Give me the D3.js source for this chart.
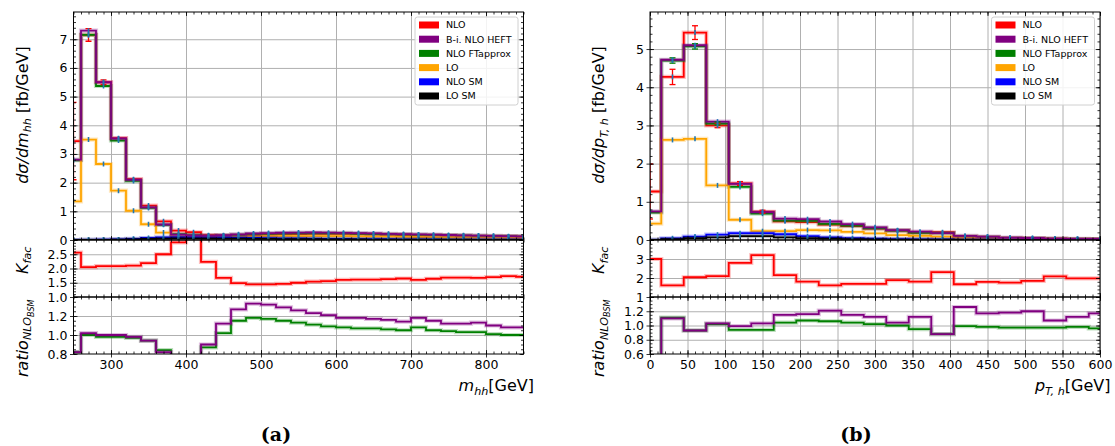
<!DOCTYPE html>
<html><head><meta charset="utf-8">
<script src="https://cdn.jsdelivr.net/npm/d3@7"></script>
<style>body{margin:0;background:#fff} svg{display:block} text{font-family:'DejaVu Sans',sans-serif;fill:#000}</style>
</head><body><script>
// ---------- DATA: left chart (m_hh) ----------
const mhhCenters = [250,270,290,310,330,350,370,390,410,430,450,470,490,510,530,550,570,590,610,630,650,670,690,710,730,750,770,790,810,830,850];
const nloM   = [3.45,7.15,5.50,3.55,2.12,1.20,0.65,0.33,0.27,0.167,0.150,0.156,0.170,0.184,0.196,0.206,0.213,0.212,0.211,0.204,0.195,0.187,0.180,0.166,0.161,0.155,0.146,0.137,0.131,0.125,0.116];
const heftM  = [2.80,7.30,5.50,3.54,2.10,1.14,0.54,0.19,0.16,0.150,0.168,0.198,0.226,0.243,0.253,0.260,0.262,0.257,0.249,0.241,0.228,0.217,0.205,0.196,0.185,0.174,0.164,0.155,0.144,0.135,0.125];
const ftM    = [2.78,7.15,5.37,3.47,2.06,1.12,0.53,0.20,0.17,0.145,0.153,0.179,0.201,0.215,0.225,0.233,0.236,0.231,0.228,0.218,0.209,0.198,0.189,0.179,0.169,0.161,0.150,0.141,0.132,0.125,0.116];
const loM    = [1.35,3.50,2.65,1.72,1.02,0.55,0.26,0.115,0.08,0.075,0.09,0.105,0.118,0.128,0.134,0.137,0.138,0.136,0.132,0.127,0.121,0.115,0.109,0.104,0.098,0.092,0.087,0.082,0.077,0.072,0.068];
const nloSmM = [0.0,0.005,0.01,0.02,0.04,0.07,0.09,0.10,0.10,0.095,0.09,0.083,0.075,0.068,0.06,0.053,0.047,0.042,0.037,0.033,0.029,0.026,0.023,0.02,0.018,0.016,0.014,0.012,0.011,0.01,0.009];
const loSmM  = [0.0,0.003,0.006,0.011,0.022,0.038,0.05,0.055,0.055,0.052,0.049,0.045,0.041,0.037,0.033,0.029,0.026,0.023,0.02,0.018,0.016,0.014,0.013,0.011,0.01,0.009,0.008,0.007,0.006,0.0055,0.005];
const nloErrM = [1.35,0.22,0.08,0.05,0.04,0.05,0.05,0.05,0.04,0.02,0.02,0.02,0.02,0.02,0.02,0.02,0.02,0.02,0.02,0.02,0.02,0.02,0.02,0.02,0.02,0.02,0.02,0.02,0.02,0.02,0.02];
const ftErrM  = [0.03,0.04,0.03,0.02,0.02,0.02,0.01,0.01,0.01,0.01,0.01,0.01,0.01,0.01,0.01,0.01,0.01,0.01,0.01,0.01,0.01,0.01,0.01,0.01,0.01,0.01,0.01,0.01,0.01,0.01,0.01];
const kfacM   = [2.56,2.05,2.08,2.08,2.10,2.19,2.50,2.92,3.30,2.23,1.67,1.49,1.44,1.44,1.46,1.50,1.54,1.56,1.60,1.61,1.61,1.63,1.65,1.60,1.64,1.68,1.68,1.67,1.70,1.73,1.71];
const ratioHeftM = [0.82,1.02,1.00,1.00,0.98,0.94,0.82,0.58,0.60,0.90,1.12,1.27,1.33,1.32,1.29,1.26,1.23,1.21,1.18,1.18,1.17,1.16,1.14,1.18,1.15,1.12,1.12,1.13,1.10,1.08,1.08];
const ratioFtM   = [0.82,1.00,0.98,0.98,0.97,0.94,0.84,0.61,0.63,0.87,1.02,1.15,1.18,1.17,1.15,1.13,1.11,1.09,1.08,1.07,1.07,1.06,1.05,1.08,1.05,1.04,1.03,1.03,1.01,1.00,1.00];
const mhhTicks = [300,400,500,600,700,800];

// ---------- DATA: right chart (pT,h) ----------
const ptCenters = [0,30,60,90,120,150,180,210,240,270,300,330,360,390,420,450,480,510,540,570,600];
const nloP   = [1.27,4.27,5.43,3.00,1.48,0.74,0.49,0.47,0.40,0.363,0.296,0.246,0.195,0.203,0.087,0.077,0.051,0.043,0.033,0.026,0.022];
const heftP  = [0.75,4.72,5.10,3.10,1.47,0.73,0.56,0.545,0.484,0.417,0.332,0.256,0.218,0.179,0.110,0.090,0.060,0.052,0.035,0.029,0.026];
const ftP    = [0.72,4.70,5.07,3.05,1.39,0.69,0.51,0.503,0.424,0.378,0.302,0.246,0.185,0.179,0.086,0.075,0.049,0.042,0.032,0.0255,0.021];
const loP    = [0.43,2.62,2.65,1.43,0.53,0.23,0.23,0.26,0.25,0.215,0.175,0.13,0.108,0.088,0.052,0.043,0.029,0.023,0.016,0.013,0.011];
const nloSmP = [0.005,0.045,0.09,0.14,0.18,0.18,0.15,0.10,0.07,0.05,0.035,0.025,0.018,0.013,0.010,0.008,0.006,0.005,0.004,0.003,0.003];
const loSmP  = [0.002,0.02,0.05,0.07,0.10,0.10,0.07,0.05,0.035,0.025,0.017,0.012,0.009,0.007,0.005,0.004,0.003,0.002,0.002,0.0015,0.001];
const nloErrP = [0.72,0.20,0.18,0.06,0.05,0.04,0.03,0.03,0.02,0.02,0.02,0.01,0.01,0.01,0.01,0.01,0.01,0.01,0.01,0.01,0.01];
const ftErrP  = [0.03,0.07,0.07,0.04,0.03,0.02,0.02,0.02,0.01,0.01,0.01,0.01,0.01,0.01,0.01,0.01,0.01,0.01,0.01,0.01,0.01];
const kfacP   = [3.00,1.61,2.04,2.10,2.80,3.20,2.15,1.81,1.61,1.69,1.69,1.89,1.81,2.31,1.67,1.80,1.76,1.85,2.09,1.98,1.98];
const ratioHeftP = [0.30,1.10,0.93,1.03,0.99,1.03,1.15,1.16,1.21,1.15,1.12,1.04,1.12,0.88,1.26,1.17,1.18,1.20,1.07,1.12,1.17];
const ratioFtP   = [0.30,1.11,0.93,1.02,0.94,0.94,1.04,1.07,1.06,1.04,1.02,1.00,0.95,0.88,0.99,0.98,0.97,0.97,0.97,0.98,0.96];
const ptTicks = [0,50,100,150,200,250,300,350,400,450,500,550,600];

const legendLabels = ['NLO','B-i. NLO HEFT','NLO FTapprox','LO','NLO SM','LO SM'];
const legendColors = ['#ff0000','#800080','#008000','#ffa500','#0000ff','#000000'];

// ---------- LAYOUT ----------
const W=1115,H=446;
const Y0=12, Y1=240, Y2=297, Y3=354;
const TICKFS=12.5, LABFS=16;
const svg=d3.select('body').append('svg').attr('width',W).attr('height',H);
const defs=svg.append('defs');
let clipN=0;
const GRID='#b0b0b0';

function range(a,b,s){const r=[];for(let v=a;v<=b+1e-9;v+=s)r.push(+v.toFixed(4));return r;}

function stepPts(centers, vals, half){
  const p=centers.map((c,i)=>[c-half,vals[i]]);
  p.push([centers[centers.length-1]+half, vals[vals.length-1]]);
  return p;
}

function mathText(sel, parts, fs){
  let cur=0;
  parts.forEach(([t,lvl,it])=>{
    const size = lvl===0?fs:(lvl===1?fs*0.7:fs*0.5);
    const shift = lvl===0?0:(lvl===1?fs*0.22:fs*0.38);
    sel.append('tspan').attr('dy',shift-cur).attr('font-size',size)
      .attr('font-style',it?'italic':'normal').text(t);
    cur=shift;
  });
}

function styleAxis(g){g.select('.domain').remove();g.selectAll('line').attr('stroke','#000').attr('stroke-width',0.8);}

function panel(o){
  const {g,x,y,top,bot,x0,x1,xMajor,xMinor,yMajor,yMinor,yLabels,yFmt,showX,xFmt}=o;
  const h=bot-top;
  g.append('g').attr('transform',`translate(0,${bot})`)
    .call(d3.axisBottom(x).tickValues(xMajor).tickSize(-h).tickFormat(''))
    .call(a=>{a.select('.domain').remove();a.selectAll('line').attr('stroke',GRID).attr('stroke-width',1);});
  g.append('g').attr('transform',`translate(${x0},0)`)
    .call(d3.axisLeft(y).tickValues(yMajor.filter(v=>Math.abs(y(v)-top)>1&&Math.abs(y(v)-bot)>1)).tickSize(-(x1-x0)).tickFormat(''))
    .call(a=>{a.select('.domain').remove();a.selectAll('line').attr('stroke',GRID).attr('stroke-width',1);});
  const id='clip'+(clipN++);
  defs.append('clipPath').attr('id',id).append('rect').attr('x',x0).attr('y',top).attr('width',x1-x0).attr('height',h);
  const plot=g.append('g').attr('clip-path',`url(#${id})`);
  g.append('g').attr('transform',`translate(0,${bot})`).call(d3.axisBottom(x).tickValues(xMinor).tickSize(-2.5).tickFormat('')).call(styleAxis);
  g.append('g').attr('transform',`translate(0,${bot})`).call(d3.axisBottom(x).tickValues(xMajor).tickSize(-4).tickFormat('')).call(styleAxis);
  g.append('g').attr('transform',`translate(0,${top})`).call(d3.axisTop(x).tickValues(xMinor).tickSize(-2.5).tickFormat('')).call(styleAxis);
  g.append('g').attr('transform',`translate(0,${top})`).call(d3.axisTop(x).tickValues(xMajor).tickSize(-4).tickFormat('')).call(styleAxis);
  if(showX){
    g.append('g').attr('transform',`translate(0,${bot})`)
      .call(d3.axisBottom(x).tickValues(xMajor).tickSize(3.5).tickPadding(2.5).tickFormat(xFmt))
      .call(styleAxis).call(a=>a.selectAll('text').attr('font-size',TICKFS).attr('font-family','DejaVu Sans'));
  }
  g.append('g').attr('transform',`translate(${x0},0)`).call(d3.axisLeft(y).tickValues(yMinor).tickSize(-2.5).tickFormat('')).call(styleAxis);
  g.append('g').attr('transform',`translate(${x0},0)`).call(d3.axisLeft(y).tickValues(yMajor).tickSize(-4).tickFormat('')).call(styleAxis);
  g.append('g').attr('transform',`translate(${x0},0)`)
    .call(d3.axisLeft(y).tickValues(yLabels).tickSize(3.5).tickPadding(2.5).tickFormat(yFmt))
    .call(styleAxis).call(a=>a.selectAll('text').attr('font-size',TICKFS).attr('font-family','DejaVu Sans'));
  g.append('g').attr('transform',`translate(${x1},0)`).call(d3.axisRight(y).tickValues(yMinor).tickSize(-2.5).tickFormat('')).call(styleAxis);
  g.append('g').attr('transform',`translate(${x1},0)`).call(d3.axisRight(y).tickValues(yMajor).tickSize(-4).tickFormat('')).call(styleAxis);
  return plot;
}

function stepLine(plot,x,y,centers,vals,half,color){
  const line=d3.line().x(d=>x(d[0])).y(d=>y(d[1])).curve(d3.curveStepAfter);
  const pts=stepPts(centers,vals,half);
  plot.append('path').attr('d',line(pts)).attr('fill','none').attr('stroke',color).attr('stroke-width',4.2).attr('stroke-opacity',0.25);
  plot.append('path').attr('d',line(pts)).attr('fill','none').attr('stroke',color).attr('stroke-width',1.8);
}

function errBars(plot,x,y,centers,vals,errs,color){
  centers.forEach((c,i)=>{
    const cx=x(c), ya=y(vals[i]-errs[i]), yb=y(vals[i]+errs[i]);
    plot.append('line').attr('x1',cx).attr('x2',cx).attr('y1',ya).attr('y2',yb).attr('stroke',color).attr('stroke-width',1.3);
    if(Math.abs(ya-yb)>3){
      [ya,yb].forEach(yy=>plot.append('line').attr('x1',cx-3).attr('x2',cx+3).attr('y1',yy).attr('y2',yy).attr('stroke',color).attr('stroke-width',1.3));
    }
  });
}

function blueTicks(plot,x,y,centers,vals){
  centers.forEach((c,i)=>{
    const cx=x(c), cy=y(vals[i]);
    plot.append('line').attr('x1',cx).attr('x2',cx).attr('y1',cy-2.5).attr('y2',cy+2.5).attr('stroke','#1f77b4').attr('stroke-width',1.6);
  });
}

function chart(o){
  const g=svg.append('g');
  const x=d3.scaleLinear().domain(o.xDomain).range([o.x0,o.x1]);
  const yMain=d3.scaleLinear().domain(o.mainDomain).range([Y1,Y0]);
  const yK=d3.scaleLinear().domain(o.kDomain).range([Y2,Y1]);
  const yR=d3.scaleLinear().domain(o.rDomain).range([Y3,Y2]);
  const base={g,x,x0:o.x0,x1:o.x1,xMajor:o.xTicks,xMinor:o.xMinor,xFmt:d3.format('d')};
  const p1=panel({...base,y:yMain,top:Y0,bot:Y1,yMajor:o.mainMajor,yMinor:o.mainMinor,yLabels:o.mainMajor,yFmt:d3.format('d'),showX:false});
  const p2=panel({...base,y:yK,top:Y1,bot:Y2,yMajor:o.kMajor,yMinor:o.kMinor,yLabels:o.kLabels,yFmt:o.kFmt,showX:false});
  const p3=panel({...base,y:yR,top:Y2,bot:Y3,yMajor:o.rMajor,yMinor:o.rMinor,yLabels:o.rLabels,yFmt:d3.format('.1f'),showX:true});
  const c=o.centers,h=o.half;
  stepLine(p1,x,yMain,c,o.nlo,h,legendColors[0]);
  stepLine(p1,x,yMain,c,o.ft,h,legendColors[2]);
  stepLine(p1,x,yMain,c,o.lo,h,legendColors[3]);
  stepLine(p1,x,yMain,c,o.nloSm,h,legendColors[4]);
  stepLine(p1,x,yMain,c,o.loSm,h,legendColors[5]);
  stepLine(p1,x,yMain,c,o.heft,h,legendColors[1]);
  errBars(p1,x,yMain,c,o.nlo,o.nloErr,legendColors[0]);
  errBars(p1,x,yMain,c,o.ft,o.ftErr,legendColors[2]);
  [o.nlo,o.heft,o.ft,o.lo,o.nloSm,o.loSm].forEach(v=>blueTicks(p1,x,yMain,c,v));
  stepLine(p2,x,yK,c,o.kfac,h,legendColors[0]);
  stepLine(p3,x,yR,c,o.rFt,h,legendColors[2]);
  stepLine(p3,x,yR,c,o.rHeft,h,legendColors[1]);
  [[Y0,Y1],[Y1,Y2],[Y2,Y3]].forEach(([a,b])=>g.append('rect').attr('x',o.x0).attr('y',a).attr('width',o.x1-o.x0).attr('height',b-a).attr('fill','none').attr('stroke','#000').attr('stroke-width',1));
  const lx=o.x1-108.5, ly=17;
  const lg=g.append('g');
  lg.append('rect').attr('x',lx).attr('y',ly).attr('width',103).attr('height',88).attr('rx',2.5).attr('fill','#fff').attr('fill-opacity',0.85).attr('stroke','#d0d0d0').attr('stroke-width',1);
  legendLabels.forEach((t,i)=>{
    const yy=ly+8+i*14.2;
    lg.append('rect').attr('x',lx+4).attr('y',yy-3.5).attr('width',20).attr('height',7).attr('fill',legendColors[i]);
    lg.append('text').attr('x',lx+31).attr('y',yy+3.4).attr('font-size',9.5).text(t);
  });
  const t1=g.append('text').attr('transform',`translate(${o.x0-46},${115}) rotate(-90)`).attr('text-anchor','middle');
  mathText(t1,o.mainLabel,LABFS);
  const t2=g.append('text').attr('transform',`translate(${o.x0-46},${377}) rotate(-90)`).attr('text-anchor','start');
  mathText(t2,[['ratio',0,true],['NLO',1,true],['BSM',2,true]],LABFS);
  const t3=g.append('text').attr('transform',`translate(${o.x0-46},${274}) rotate(-90)`).attr('text-anchor','start');
  mathText(t3,[['K',0,true],['fac',1,true]],LABFS);
  const t4=g.append('text').attr('x',o.x1+10.5).attr('y',391).attr('text-anchor','end');
  mathText(t4,o.xLabel,LABFS);
  g.append('text').attr('x',o.capX).attr('y',441).attr('text-anchor','middle')
    .attr('font-weight','bold').attr('font-size',19).style('font-family','"DejaVu Serif",serif').text(o.cap);
}

chart({
  x0:73.5,x1:523.5,xDomain:[250,850],xTicks:mhhTicks,xMinor:range(250,850,10),
  centers:mhhCenters,half:10,
  nlo:nloM,heft:heftM,ft:ftM,lo:loM,nloSm:nloSmM,loSm:loSmM,nloErr:nloErrM,ftErr:ftErrM,
  kfac:kfacM,rHeft:ratioHeftM,rFt:ratioFtM,
  mainDomain:[0,7.95],mainMajor:[0,1,2,3,4,5,6,7],mainMinor:range(0,7.8,0.2),
  kDomain:[1,3],kMajor:[1,1.5,2,2.5,3],kMinor:range(1,3,0.1),kLabels:[1,1.5,2,2.5],kFmt:d3.format('.1f'),
  rDomain:[0.8,1.4],rMajor:[0.8,1.0,1.2,1.4],rMinor:range(0.8,1.4,0.05),rLabels:[0.8,1.0,1.2],
  mainLabel:[['d\u03c3/dm',0,true],['hh',1,true],[' [fb/GeV]',0,false]],
  xLabel:[['m',0,true],['hh',1,true],['[GeV]',0,false]],
  cap:'(a)',capX:276
});
chart({
  x0:650,x1:1100,xDomain:[0,600],xTicks:ptTicks,xMinor:range(0,600,10),
  centers:ptCenters,half:15,
  nlo:nloP,heft:heftP,ft:ftP,lo:loP,nloSm:nloSmP,loSm:loSmP,nloErr:nloErrP,ftErr:ftErrP,
  kfac:kfacP,rHeft:ratioHeftP,rFt:ratioFtP,
  mainDomain:[0,5.97],mainMajor:[0,1,2,3,4,5],mainMinor:range(0,5.8,0.2),
  kDomain:[1,4],kMajor:[1,2,3,4],kMinor:range(1,4,0.2),kLabels:[1,2,3],kFmt:d3.format('d'),
  rDomain:[0.6,1.4],rMajor:[0.6,0.8,1.0,1.2,1.4],rMinor:range(0.6,1.4,0.05),rLabels:[0.6,0.8,1.0,1.2],
  mainLabel:[['d\u03c3/dp',0,true],['T, h',1,true],[' [fb/GeV]',0,false]],
  xLabel:[['p',0,true],['T, h',1,true],['[GeV]',0,false]],
  cap:'(b)',capX:856
});
</script></body></html>
